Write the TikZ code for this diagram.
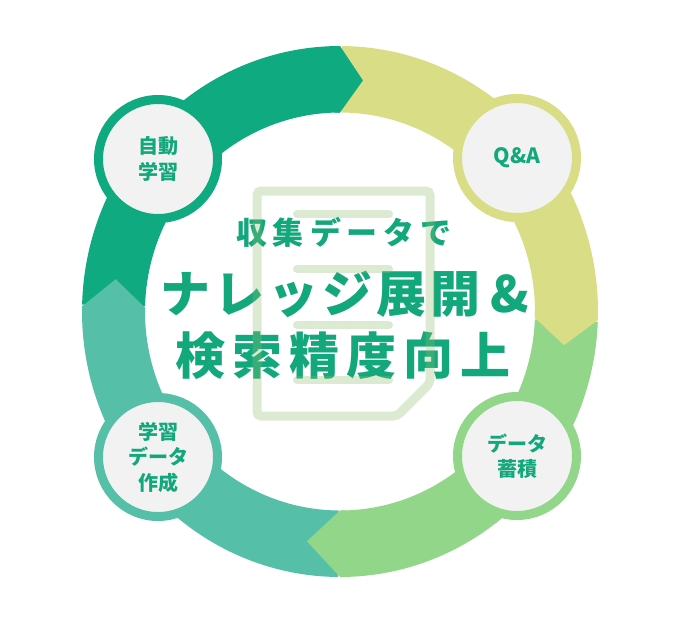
\documentclass[tikz,border=0pt]{standalone}
\usepackage{fontspec}
\newfontfamily\jp{Noto Sans CJK JP}
\definecolor{cA}{RGB}{15,170,128}
\definecolor{cB}{RGB}{217,222,134}
\definecolor{cC}{RGB}{146,214,138}
\definecolor{cD}{RGB}{85,191,168}
\definecolor{txt}{RGB}{19,167,124}
\definecolor{nodefill}{RGB}{242,242,242}
\definecolor{docc}{RGB}{142,188,108}
\tikzset{
  stage/.style={circle, line width=9pt, fill=nodefill, minimum size=119pt, inner sep=0pt,
    align=center, text=txt, font=\jp\bfseries\fontsize{20}{25.5}\selectfont},
  headline/.style={text=txt, inner sep=0pt},
  docline/.style={draw=docc, opacity=0.3, line width=9pt},
  docbar/.style={draw=docc, opacity=0.3, line width=8pt, line cap=round}
}
\newcommand\ringbody[3]{% colour, start angle, end angle
  \fill[#1] plot[domain=#2:#3,samples=80] ({340+258*cos(\x)},{311.5+265.5*sin(\x)})
    -- plot[domain=#3:#2,samples=80] ({340+195*cos(\x)},{311.5+199*sin(\x)}) -- cycle;}
\newcommand\ringtip[3]{% colour, boundary angle, tip angle
  \fill[#1] plot[domain=#2-1.5:#2,samples=5] ({340+258*cos(\x)},{311.5+265.5*sin(\x)})
    -- ({340+226.5*cos(#3)},{311.5+232.25*sin(#3)})
    -- plot[domain=#2:#2-1.5,samples=5] ({340+195*cos(\x)},{311.5+199*sin(\x)}) -- cycle;}
\begin{document}
\begin{tikzpicture}[x=1pt,y=-1pt]
\useasboundingbox (0,0) rectangle (679,619);
\fill[white] (0,0) rectangle (679,619);
% ring segments
\ringbody{cA}{181.5}{270}
\ringbody{cB}{270.4}{361.85}
\ringbody{cC}{362.25}{450}
\ringbody{cD}{450.4}{541.1}
\ringtip{cA}{270}{275.8}
\ringtip{cB}{361.85}{368.35}
\ringtip{cC}{450}{458.4}
\ringtip{cD}{541.1}{548.0}
% stage circles
\node[stage, draw=cA] (n1) at (158,159) {自動\\学習};
\node[stage, draw=cB, font=\jp\bfseries\fontsize{21}{25}\selectfont] (n2) at (517,158) {Q\&A};
\node[stage, draw=cC] (n3) at (517,456) {データ\\蓄積};
\node[stage, draw=cD] (n4) at (158,457) {学習\\データ\\作成};
% headline text
\node[headline, font=\jp\bfseries\fontsize{31}{31}\selectfont] (t1) at (344,232.5)
  {収\kern6pt 集\kern6pt デ\kern6pt ー\kern6pt タ\kern6pt で};
\node[headline, font=\jp\bfseries\fontsize{50}{50}\selectfont] (t2) at (344.5,294)
  {ナ\kern4pt レ\kern4pt ッ\kern4pt ジ\kern4pt 展\kern4pt 開\kern10pt\&};
\node[headline, font=\jp\bfseries\fontsize{50}{50}\selectfont] (t3) at (343,355.5)
  {検\kern7pt 索\kern7pt 精\kern7pt 度\kern7pt 向\kern7pt 上};
% document icon (translucent, over the text)
\draw[docline, rounded corners=4pt] (257,191) -- (430,191) -- (430,383) -- (397,416) -- (257,416) -- cycle;
\foreach \yy in {214,269,325,380} {
  \draw[docbar] (297,\yy) -- (389,\yy);
}
\end{tikzpicture}
\end{document}
